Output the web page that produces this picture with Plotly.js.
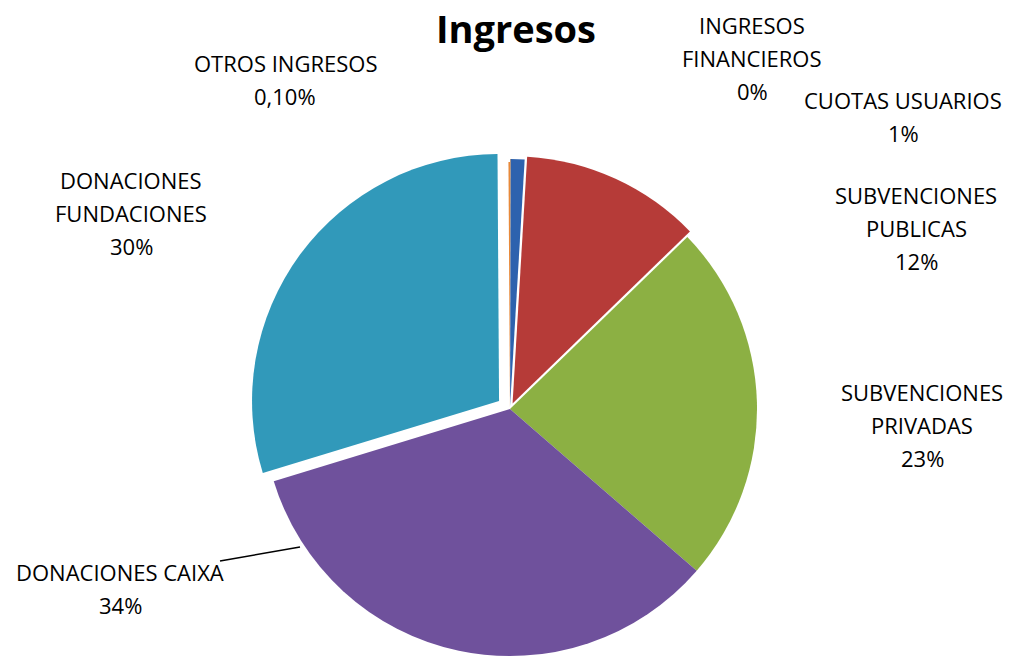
<!DOCTYPE html>
<html><head><meta charset="utf-8">
<script src="https://cdn.plot.ly/plotly-3.0.1.min.js"></script>
<style>html,body{margin:0;padding:0;overflow:hidden;background:#fff}</style>
</head><body><div id="chart"></div>
<script>
// ---- data ----
const categories = ['INGRESOS FINANCIEROS','CUOTAS USUARIOS','SUBVENCIONES PUBLICAS','SUBVENCIONES PRIVADAS','DONACIONES CAIXA','DONACIONES FUNDACIONES','OTROS INGRESOS'];
const values = [0.04, 0.9, 11.8, 23.6, 33.9, 29.6, 0.1];
const percentLabels = ['0%','1%','12%','23%','34%','30%','0,10%'];
const labelLines = [['INGRESOS','FINANCIEROS'],['CUOTAS USUARIOS'],['SUBVENCIONES','PUBLICAS'],['SUBVENCIONES','PRIVADAS'],['DONACIONES CAIXA'],['DONACIONES','FUNDACIONES'],['OTROS INGRESOS']];
const titleText = 'Ingresos';

// ---- style / layout ----
const sliceColors = ['#C4782E','#2D62AE','#B63B38','#8CB043','#6F519C','#3199BA','#E8893A'];
const slicePull = [0.012, 0.012, 0.025, 0, 0, 0.055, 0];
const W = 1012, H = 700;
// first-line centre of each label, in pixels
const labelPos = [[752,25],[903,100],[916,195],[922,392],[120,572],[131,180],[285,63]];
const lineStep = 33;

const annotations = [];
categories.forEach((c, i) => {
  const lines = labelLines[i].concat([percentLabels[i]]);
  lines.forEach((t, j) => {
    annotations.push({
      text: t, showarrow: false, xref: 'paper', yref: 'paper',
      x: labelPos[i][0] / W, y: 1 - (labelPos[i][1] + j * lineStep) / H,
      xanchor: 'center', yanchor: 'middle',
      font: {family: 'Open Sans', size: 22, color: '#000'}
    });
  });
});

const trace = {
  type: 'pie',
  labels: categories,
  values: values,
  sort: false,
  direction: 'clockwise',
  rotation: 0,
  pull: slicePull,
  textinfo: 'none',
  hoverinfo: 'label+percent',
  marker: {colors: sliceColors, line: {width: 0}},
  domain: {x: [0.20395, 0.80395], y: [0.04343, 0.788]},
  showlegend: false
};

const layout = {
  width: W, height: H,
  margin: {l: 0, r: 0, t: 0, b: 0},
  paper_bgcolor: '#fff',
  showlegend: false,
  title: {
    text: '<b>' + titleText + '</b>',
    font: {family: 'Open Sans', size: 38, color: '#000'},
    x: 516 / W, xanchor: 'center', xref: 'paper',
    y: 1 - 30 / H, yanchor: 'middle', yref: 'container'
  },
  annotations: annotations,
  shapes: [{
    type: 'line', xref: 'paper', yref: 'paper',
    x0: 220 / W, y0: 1 - 561 / H, x1: 300 / W, y1: 1 - 547 / H,
    line: {color: '#000', width: 1.5}
  }]
};

Plotly.newPlot('chart', [trace], layout, {displayModeBar: false, staticPlot: true});
</script>
</body></html>
